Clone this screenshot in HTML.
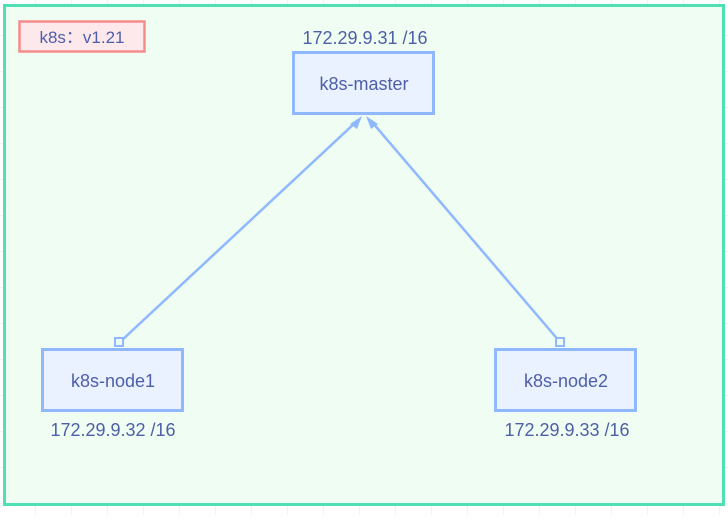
<!DOCTYPE html>
<html><head><style>
body{margin:0;width:728px;height:515px;background:#fff;overflow:hidden;font-family:"Liberation Sans",sans-serif;}
</style></head><body>
<svg width="728" height="515" xmlns="http://www.w3.org/2000/svg">
<defs><pattern id="g" width="36" height="36" patternUnits="userSpaceOnUse"><path d="M36 0V36H0" fill="none" stroke="#e6e6e6" stroke-width="1"/></pattern></defs>
<rect width="728" height="515" fill="url(#g)"/>
<rect x="4.5" y="5.5" width="719" height="499" fill="#effdf3" stroke="#4fe0b5" stroke-width="3"/>
<rect x="19.5" y="21.5" width="125" height="30" fill="#fde9ec" stroke="#f58c8c" stroke-width="2.5"/>
<text x="82" y="43" font-size="17" fill="#4d5fa8" text-anchor="middle">k8s：v1.21</text>
<g stroke="#8fb8ff" stroke-width="2.5" fill="none">
<line x1="120" y1="342" x2="356" y2="122"/>
<line x1="560" y1="342" x2="372" y2="122"/>
<rect x="115" y="338" width="8" height="8" fill="#effdf3" stroke-width="2"/>
<rect x="556" y="338" width="8" height="8" fill="#effdf3" stroke-width="2"/>
</g>
<polygon points="362,116 350,124 357,129" fill="#8fb8ff"/>
<polygon points="366,116 371,129 378,124" fill="#8fb8ff"/>
<g fill="#eaf1ff" stroke="#8fb8ff" stroke-width="3">
<rect x="293.5" y="52.5" width="140" height="61"/>
<rect x="42.5" y="349.5" width="140" height="61"/>
<rect x="495.5" y="349.5" width="140" height="61"/>
</g>
<g font-size="18" fill="#4d5fa8" text-anchor="middle">
<text x="364" y="90">k8s-master</text>
<text x="113" y="387">k8s-node1</text>
<text x="566" y="387">k8s-node2</text>
<text x="365" y="44">172.29.9.31 /16</text>
<text x="113" y="436">172.29.9.32 /16</text>
<text x="567" y="436">172.29.9.33 /16</text>
</g>
</svg>
</body></html>
